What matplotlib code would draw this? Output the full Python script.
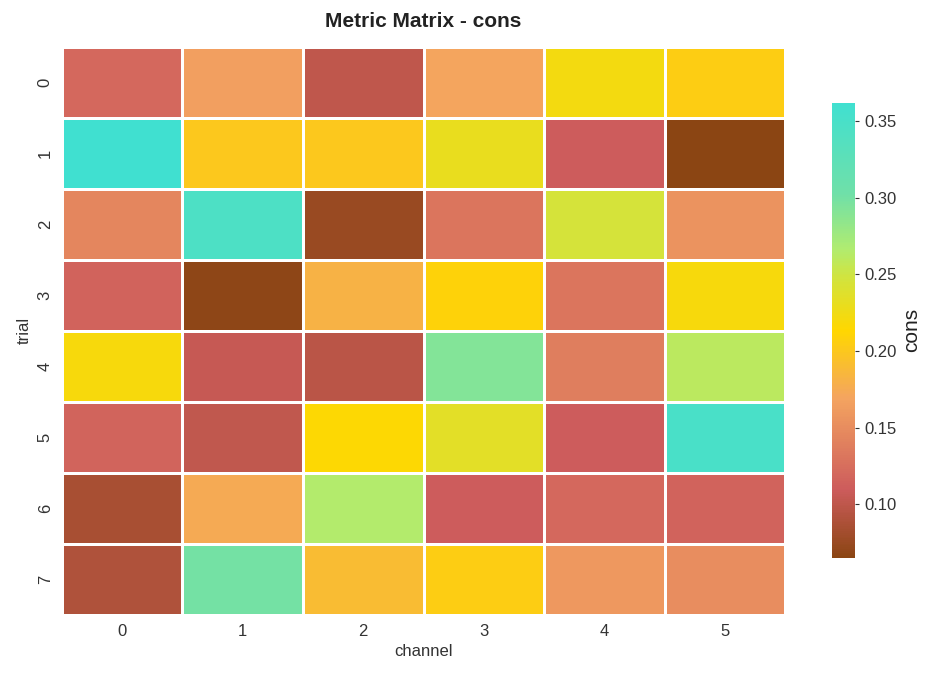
import matplotlib
matplotlib.use("Agg")
import matplotlib.pyplot as plt
import seaborn as sns
import numpy as np
from matplotlib.colors import LinearSegmentedColormap

sns.set_style("white")
plt.rcParams['font.family'] = ['Liberation Sans', 'DejaVu Sans']

trials = [0, 1, 2, 3, 4, 5, 6, 7]
channels = [0, 1, 2, 3, 4, 5]
cons = [
    [0.120, 0.165, 0.100, 0.170, 0.222, 0.205],
    [0.362, 0.200, 0.200, 0.230, 0.110, 0.065],
    [0.145, 0.345, 0.075, 0.130, 0.245, 0.155],
    [0.115, 0.068, 0.182, 0.210, 0.130, 0.220],
    [0.220, 0.105, 0.097, 0.292, 0.137, 0.260],
    [0.117, 0.102, 0.215, 0.235, 0.110, 0.350],
    [0.085, 0.175, 0.265, 0.110, 0.120, 0.115],
    [0.090, 0.300, 0.190, 0.205, 0.160, 0.150],
]

cmap = LinearSegmentedColormap.from_list(
    "cons", [(0.0, "saddlebrown"), (0.15, "indianred"), (0.35, "sandybrown"),
             (0.5, "gold"), (0.62, "#d0e440"), (0.68, "#b0ec70"), (0.8, "#70e0a8"),
             (1.0, "turquoise")])

fig = plt.figure(figsize=(9.35, 6.77), dpi=100)
ax = fig.add_axes([0.066, 0.092, 0.774, 0.839])
cax = fig.add_axes([0.890, 0.176, 0.0246, 0.672])
sns.heatmap(np.array(cons), ax=ax, cbar_ax=cax, cmap=cmap, linewidths=2, linecolor="white",
            xticklabels=channels, yticklabels=trials)
ax.set_title("Metric Matrix - cons", fontsize=15, fontweight="bold", pad=14, color="#222222")
ax.set_xlabel("channel", fontsize=12, color="#333333")
ax.set_ylabel("trial", fontsize=12, color="#333333")
ax.tick_params(labelsize=12, length=3, colors="#333333")
cax.tick_params(labelsize=12, length=3, colors="#333333")
cax.set_ylabel("cons", fontsize=15, color="#222222")
for s in cax.spines.values():
    s.set_visible(False)
plt.savefig("out.png")
